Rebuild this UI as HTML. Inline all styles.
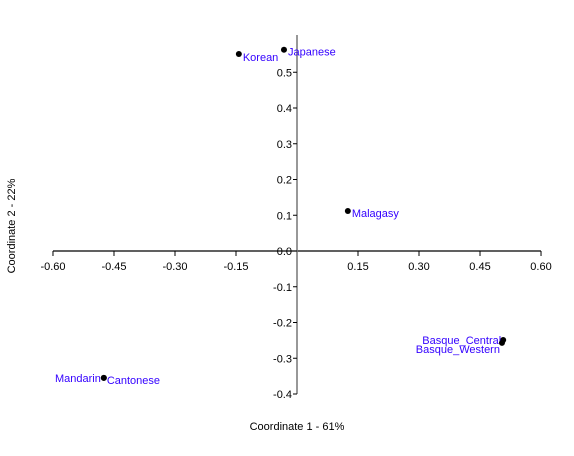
<!DOCTYPE html>
<html><head><meta charset="utf-8"><style>
html,body{margin:0;padding:0;background:#fff}
svg text{font-family:"Liberation Sans",sans-serif;font-size:11px}
</style></head><body>
<svg id="chart" width="574" height="451" xmlns="http://www.w3.org/2000/svg">
<g id="axes"></g>
<g id="points"></g>
<text x="297" y="430" text-anchor="middle">Coordinate 1 - 61%</text>
<text transform="translate(15,226) rotate(-90)" text-anchor="middle">Coordinate 2 - 22%</text>
</svg>
<script>
const labels=["Korean","Japanese","Malagasy","Basque_Central","Basque_Western","Mandarin","Cantonese"];
const xVals=[-0.143,-0.032,0.125,0.507,0.504,-0.475,-0.475];
const yVals=[0.551,0.563,0.112,-0.249,-0.257,-0.355,-0.355];
const xTicks=[-0.60,-0.45,-0.30,-0.15,0.15,0.30,0.45,0.60];
const xTickLabels=["-0.60","-0.45","-0.30","-0.15","0.15","0.30","0.45","0.60"];
const yTicks=[0.5,0.4,0.3,0.2,0.1,0.0,-0.1,-0.2,-0.3,-0.4];
const yTickLabels=["0.5","0.4","0.3","0.2","0.1","0.0","-0.1","-0.2","-0.3","-0.4"];
const xs=v=>297+v*406.7, ys=v=>251-v*357.5;
const NS="http://www.w3.org/2000/svg";
function mk(tag,attrs,parent,text){const e=document.createElementNS(NS,tag);for(const k in attrs)e.setAttribute(k,attrs[k]);if(text!==undefined)e.textContent=text;parent.appendChild(e);return e;}
const ax=document.getElementById('axes');
let l=mk('line',{x1:53,x2:541,y1:251,y2:251,stroke:'#000','stroke-width':1.2},ax);


l=mk('line',{x1:297,x2:297,y1:35,y2:394,stroke:'#777','stroke-width':1.5},ax);


xTicks.forEach((t,i)=>{const x=xs(t);
 const tk=mk('line',{x1:x,x2:x,y1:251,y2:256,stroke:'#000'},ax);
 
 
 const tx=mk('text',{x:x,y:270,'text-anchor':'middle'},ax,xTickLabels[i]);
 
 
});
yTicks.forEach((t,i)=>{const y=ys(t);
 const tk=mk('line',{x1:293,x2:297,y1:y,y2:y,stroke:'#000'},ax);
 
 
 const tx=mk('text',{x:292,y:y+4,'text-anchor':'end'},ax,yTickLabels[i]);
 
 
});
const pg=document.getElementById('points');
const off={Korean:[4,7,'start'],Japanese:[4,6,'start'],Malagasy:[4,6,'start'],Basque_Central:[-2,4,'end'],Basque_Western:[-2,10,'end'],Mandarin:[-3,4,'end'],Cantonese:[3,6,'start']};
labels.forEach((n,i)=>{const x=xs(xVals[i]),y=ys(yVals[i]);
 const c=mk('circle',{cx:x,cy:y,r:3,fill:'#000'},pg);
 
 
 const o=off[n];
 const t=mk('text',{x:x+o[0],y:y+o[1],'text-anchor':o[2],fill:'#3300ff'},pg,n);
 
 
});
</script>
</body></html>
